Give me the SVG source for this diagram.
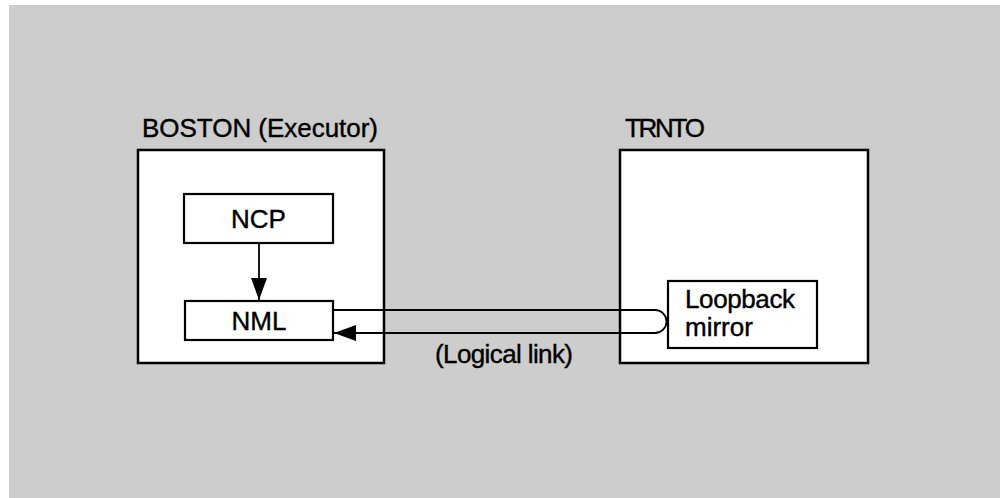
<svg xmlns="http://www.w3.org/2000/svg" width="1000" height="498" viewBox="0 0 1000 498">
<style>
.box{fill:#fff;stroke:#000;stroke-width:2.5}
.inner{fill:#fff;stroke:#000;stroke-width:2.2}
.t{font-family:"Liberation Sans",Arial,sans-serif;font-size:26px;fill:#000;stroke:#000;stroke-width:0.4}
.ln{fill:none;stroke:#000;stroke-width:1.8}
</style>
<defs>
<marker id="ah" markerWidth="22" markerHeight="16" refX="22" refY="8" orient="auto" markerUnits="userSpaceOnUse">
<path d="M0,0 L22,8 L0,16 Z" fill="#000"/>
</marker>
</defs>
<rect x="0" y="0" width="1000" height="498" fill="#fff"/>
<rect x="9" y="5" width="991" height="493" fill="#cdcdcd"/>
<g id="boston">
<rect class="box" x="138" y="150" width="246" height="213"/>
<text class="t" x="142" y="137" textLength="236">BOSTON (Executor)</text>
</g>
<g id="trnto">
<rect class="box" x="620" y="150" width="248" height="213"/>
<text class="t" x="625" y="137" textLength="80">TRNTO</text>
</g>
<g id="ncp">
<rect class="inner" x="184" y="194" width="149" height="49"/>
<text class="t" x="258.5" y="228" text-anchor="middle">NCP</text>
</g>
<g id="nml">
<rect class="inner" x="185" y="301" width="148" height="39"/>
<text class="t" x="259" y="330" text-anchor="middle">NML</text>
</g>
<g id="loopback">
<rect class="inner" x="668" y="281" width="149" height="67"/>
<text class="t" x="685" y="308" textLength="110">Loopback</text>
<text class="t" x="685" y="336">mirror</text>
</g>
<g id="connectors">
<line class="ln" x1="259" y1="243" x2="259" y2="300" marker-end="url(#ah)"/>
<path class="ln" d="M333,310 L655,310 A11.5,11.5 0 0 1 655,333 L334,333" marker-end="url(#ah)"/>
<text class="t" x="435" y="363" textLength="138">(Logical link)</text>
</g>
</svg>
